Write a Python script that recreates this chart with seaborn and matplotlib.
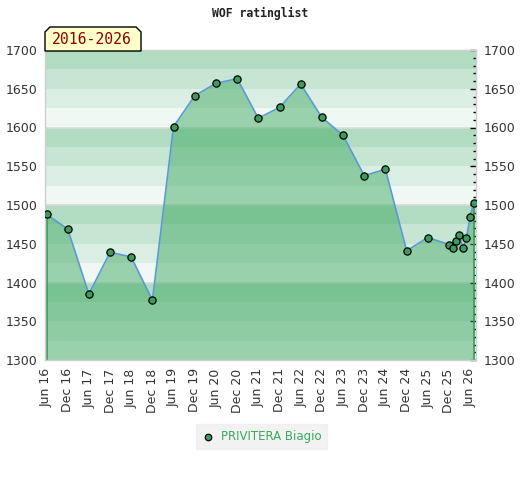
import matplotlib
matplotlib.use("Agg")
import matplotlib.pyplot as plt
import matplotlib.dates as mdates
from matplotlib.ticker import MultipleLocator
from matplotlib.patches import Polygon
import pandas as pd
import seaborn as sns

# ---------------- data ----------------
title = "WOF ratinglist"
period_label = "2016-2026"
player = "PRIVITERA Biagio"

dates = [
    "2016-06-01", "2016-12-01", "2017-06-01", "2017-12-01", "2018-06-01",
    "2018-12-01", "2019-06-01", "2019-12-01", "2020-06-01", "2020-12-01",
    "2021-06-01", "2021-12-01", "2022-06-01", "2022-12-01", "2023-06-01",
    "2023-12-01", "2024-06-01", "2024-12-01", "2025-06-01", "2025-12-01",
    "2026-01-01", "2026-02-01", "2026-03-01", "2026-04-01", "2026-05-01",
    "2026-06-01", "2026-07-01",
]
ratings = [
    1488, 1469, 1385, 1439, 1433,
    1377, 1601, 1641, 1657, 1663,
    1612, 1626, 1656, 1613, 1590,
    1538, 1546, 1441, 1458, 1449,
    1445, 1454, 1461, 1445, 1457,
    1485, 1502,
]
y_ticks = [1300, 1350, 1400, 1450, 1500, 1550, 1600, 1650, 1700]

# ---------------- style ----------------
sns.set_theme(style="white")
plt.rcParams['font.family'] = ['DejaVu Sans']

band_colors = ["#eff8f3", "#dbeee3", "#c7e5d3", "#b2dcc2"]
fill_color = (55 / 255, 165 / 255, 91 / 255)
line_color = "#5b9bd5"
marker_color = "#3a9e5a"
legend_text_color = "#3aaa5c"

df = pd.DataFrame({"date": pd.to_datetime(dates), "rating": ratings})
y_min, y_max = y_ticks[0], y_ticks[-1]

W, H = 520, 480
fig = plt.figure(figsize=(W / 100, H / 100), dpi=100)
ax = fig.add_axes([45 / W, (H - 360) / H, (476 - 45) / W, (360 - 50) / H])

# background bands (25-unit bands, 4 shades per 100)
lo = y_min
i = 0
while lo < y_max:
    ax.axhspan(lo, lo + 25, color=band_colors[i % 4], lw=0, zorder=0)
    lo += 25
    i += 1
for g in range(y_min + 100, y_max, 100):
    ax.axhline(g, color="#dadada", lw=1.2, zorder=0.5)

# area fill
ax.fill_between(df["date"], df["rating"], y_min, color=fill_color,
                alpha=0.46, lw=0, zorder=1)
ax.vlines([df["date"].iloc[0], df["date"].iloc[-1]], y_min,
          [df["rating"].iloc[0], df["rating"].iloc[-1]],
          color="#3a9a5a", lw=1.2, zorder=1.5)

# line + markers
sns.lineplot(data=df, x="date", y="rating", ax=ax, color=line_color,
             lw=1.2, zorder=2, legend=False)
sns.scatterplot(data=df, x="date", y="rating", ax=ax, color=marker_color,
                edgecolor="black", linewidth=0.9, s=27, zorder=3, label=player)

handles, labels = ax.get_legend_handles_labels()
if ax.get_legend() is not None:
    ax.get_legend().remove()

# axes limits / ticks
ax.set_xlim(df["date"].iloc[0] - pd.Timedelta(days=13),
            df["date"].iloc[-1] + pd.Timedelta(days=21))
ax.set_ylim(y_min, y_max)
ax.set_xlabel("")
ax.set_ylabel("")

ax.xaxis.set_major_locator(mdates.MonthLocator(bymonth=[6, 12]))
ax.xaxis.set_major_formatter(mdates.DateFormatter("%b %y"))
ax.tick_params(axis="x", length=0, pad=6, labelrotation=90, labelsize=9,
               labelcolor="#333333")

ax.set_yticks(y_ticks)
ax.yaxis.set_minor_locator(MultipleLocator(10))
ax.tick_params(axis="y", which="major", left=False, right=True,
               labelleft=True, labelright=True, direction="in", length=4,
               width=1, color="black", labelsize=9, labelcolor="#333333",
               pad=5.5)
ax.tick_params(axis="y", which="minor", left=False, right=True,
               direction="in", length=2.5, width=1, color="black")

for s in ax.spines.values():
    s.set_color("#cfcfcf")
    s.set_linewidth(1)

# title
fig.text(0.5, 1 - 13 / H, title, ha="center", va="center",
         family="DejaVu Sans Mono", weight="bold", size=8.3, color="#222222")

# period label box with cut top corners
l, r, t, b, c = 45, 141, 27, 51, 5
pts = [(l, b), (l, t + c), (l + c, t), (r - c, t), (r, t + c), (r, b)]
poly = Polygon([(x / W, 1 - y / H) for x, y in pts], closed=True,
               transform=fig.transFigure, facecolor="#ffffcc",
               edgecolor="black", lw=1, zorder=5)
fig.add_artist(poly)
fig.text(92 / W, 1 - 39.5 / H, period_label, ha="center", va="center",
         family="DejaVu Sans Mono", size=10.6, color="#8b0000", zorder=6)

# legend
fig.legend(handles, labels, loc="center", bbox_to_anchor=(0.503, 0.091),
           frameon=True, facecolor="#efefef", edgecolor="#efefef",
           fancybox=False, fontsize=8.5, labelcolor=legend_text_color,
           handletextpad=0.6, borderpad=0.5, handlelength=1.0,
           markerscale=0.9)

fig.savefig("out.png", dpi=100)
